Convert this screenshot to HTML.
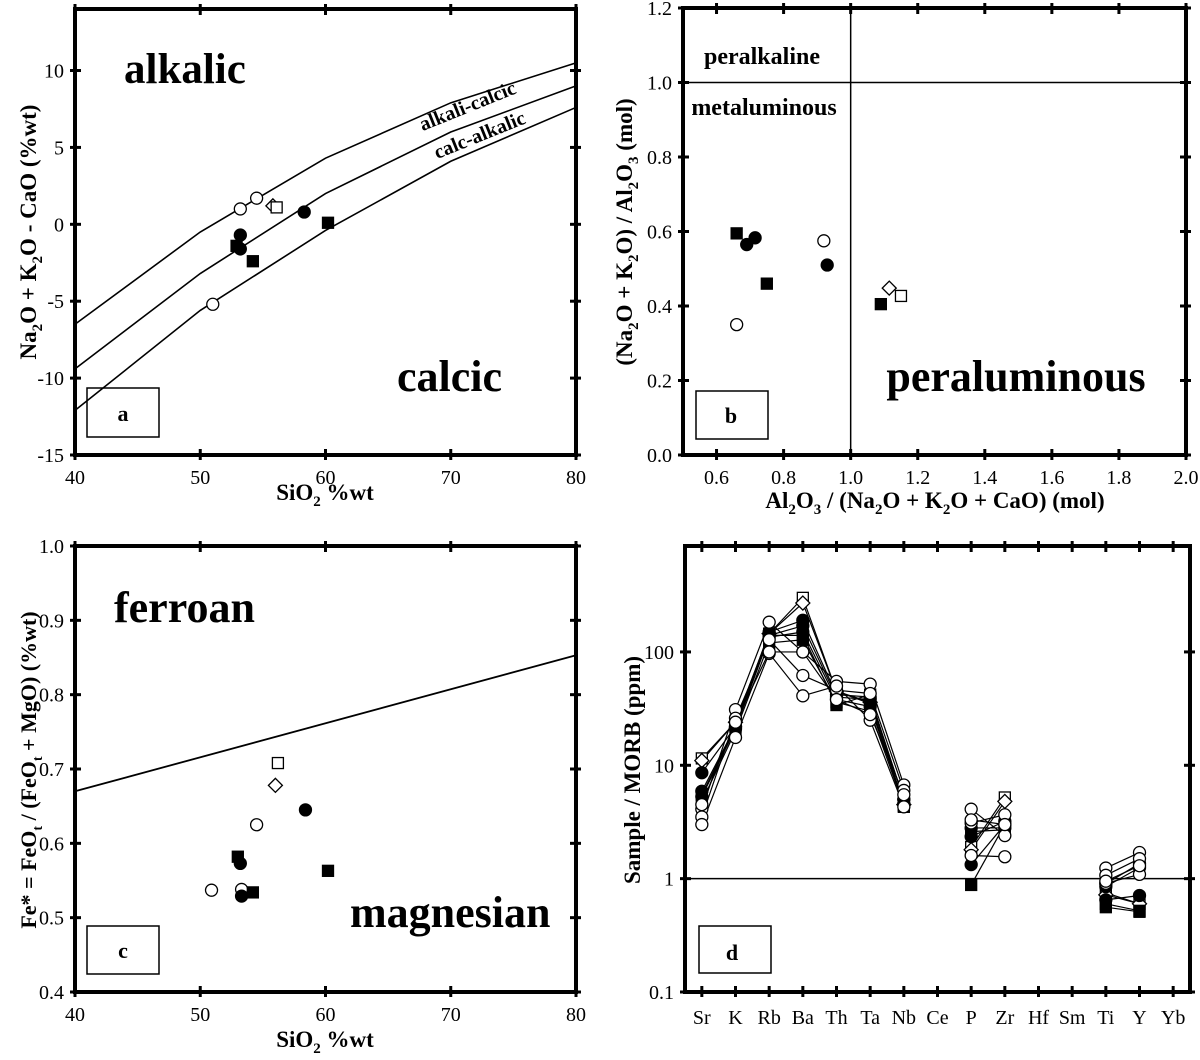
<!DOCTYPE html>
<html><head><meta charset="utf-8"><style>
html,body{margin:0;padding:0;background:#fff;}
svg{display:block;font-family:"Liberation Serif",serif;}
</style></head><body>
<svg id="fig" width="1200" height="1060" viewBox="0 0 1200 1060" xmlns="http://www.w3.org/2000/svg">
<g font-weight="bold" fill="#000">
<text x="124" y="83" font-size="43">alkalic</text>
<text x="397" y="391" font-size="44">calcic</text>
<text x="470" y="112" font-size="20" text-anchor="middle" transform="rotate(-22 470 112)">alkali-calcic</text>
<text x="482" y="141" font-size="20" text-anchor="middle" transform="rotate(-22 482 141)">calc-alkalic</text>
<rect x="87" y="388" width="72" height="49" fill="none" stroke="#000" stroke-width="1.5"/>
<text x="123" y="421" font-size="22" text-anchor="middle">a</text>
<text transform="translate(36 232) rotate(-90)" font-size="23" text-anchor="middle">Na<tspan font-size="15" dy="6">2</tspan><tspan dy="-6">O + K</tspan><tspan font-size="15" dy="6">2</tspan><tspan dy="-6">O - CaO (%wt)</tspan></text>
<text x="325" y="500" font-size="23" text-anchor="middle">SiO<tspan font-size="15" dy="6">2</tspan><tspan dy="-6"> %wt</tspan></text>
</g>
<g font-weight="bold" fill="#000">
<text x="762" y="64" font-size="24" text-anchor="middle">peralkaline</text>
<text x="764" y="115" font-size="24" text-anchor="middle">metaluminous</text>
<text x="1016" y="391" font-size="44" text-anchor="middle">peraluminous</text>
<rect x="696" y="391" width="72" height="48" fill="none" stroke="#000" stroke-width="1.5"/>
<text x="731" y="423" font-size="22" text-anchor="middle">b</text>
<text transform="translate(632 232) rotate(-90)" font-size="23" text-anchor="middle">(Na<tspan font-size="15" dy="6">2</tspan><tspan dy="-6">O + K</tspan><tspan font-size="15" dy="6">2</tspan><tspan dy="-6">O) / Al</tspan><tspan font-size="15" dy="6">2</tspan><tspan dy="-6">O</tspan><tspan font-size="15" dy="6">3</tspan><tspan dy="-6"> (mol)</tspan></text>
<text x="935" y="508" font-size="23" text-anchor="middle">Al<tspan font-size="15" dy="6">2</tspan><tspan dy="-6">O</tspan><tspan font-size="15" dy="6">3</tspan><tspan dy="-6"> / (Na</tspan><tspan font-size="15" dy="6">2</tspan><tspan dy="-6">O + K</tspan><tspan font-size="15" dy="6">2</tspan><tspan dy="-6">O + CaO) (mol)</tspan></text>
</g>
<g font-weight="bold" fill="#000">
<text x="114" y="622" font-size="44">ferroan</text>
<text x="350" y="927" font-size="44">magnesian</text>
<rect x="87" y="926" width="72" height="48" fill="none" stroke="#000" stroke-width="1.5"/>
<text x="123" y="958" font-size="22" text-anchor="middle">c</text>
<text transform="translate(36 770) rotate(-90)" font-size="22" text-anchor="middle">Fe* = FeO<tspan font-size="14" dy="6">t</tspan><tspan dy="-6"> / (FeO</tspan><tspan font-size="14" dy="6">t</tspan><tspan dy="-6"> + MgO) (%wt)</tspan></text>
<text x="325" y="1047" font-size="23" text-anchor="middle">SiO<tspan font-size="15" dy="6">2</tspan><tspan dy="-6"> %wt</tspan></text>
</g>
<g font-weight="bold" fill="#000">
<rect x="699" y="926" width="72" height="47" fill="none" stroke="#000" stroke-width="1.5"/>
<text x="732" y="960" font-size="22" text-anchor="middle">d</text>
<text transform="translate(640 770) rotate(-90)" font-size="23" text-anchor="middle">Sample / MORB (ppm)</text>
</g>
</svg>
<script>
// ---------- Panel a data ----------
const aLineX = [40, 50, 60, 70, 80];
const aUpperY = [-6.5, -0.5, 4.3, 7.9, 10.5];
const aMiddleY = [-9.4, -3.2, 2.0, 6.0, 9.0];
const aLowerY = [-12.1, -5.6, -0.4, 4.1, 7.6];
const aXTicks = [40, 50, 60, 70, 80];
const aYTicks = [-15, -10, -5, 0, 5, 10];
const ptType = ['oc','oc','oc','dm','os','fc','fc','fc','fs','fs','fs'];
const aSiO2 = [53.2, 54.5, 51.0, 55.8, 56.1, 53.2, 53.2, 58.3, 52.9, 54.2, 60.2];
const aAlk = [1.0, 1.7, -5.2, 1.2, 1.1, -0.7, -1.6, 0.8, -1.4, -2.4, 0.1];
// ---------- Panel b data ----------
const bXTicks = [0.6, 0.8, 1.0, 1.2, 1.4, 1.6, 1.8, 2.0];
const bYTicks = [0.0, 0.2, 0.4, 0.6, 0.8, 1.0, 1.2];
const bType = ['fs','fs','fs','fc','fc','fc','oc','oc','dm','os'];
const bASI = [0.66, 0.75, 1.09, 0.69, 0.715, 0.93, 0.66, 0.92, 1.115, 1.15];
const bANK = [0.595, 0.46, 0.405, 0.565, 0.583, 0.51, 0.35, 0.575, 0.448, 0.427];
// ---------- Panel c data ----------
const cXTicks = [40, 50, 60, 70, 80];
const cYTicks = [0.4, 0.5, 0.6, 0.7, 0.8, 0.9, 1.0];
const cLineX = [40, 80];
const cLineY = [0.67, 0.853];
const cType = ['os','dm','fc','oc','fs','fc','oc','oc','fc','fs','fs'];
const cSiO2 = [56.2, 56.0, 58.4, 54.5, 53.0, 53.2, 50.9, 53.3, 53.3, 54.2, 60.2];
const cFe = [0.708, 0.678, 0.645, 0.625, 0.582, 0.573, 0.537, 0.538, 0.529, 0.534, 0.563];
// ---------- Panel d data ----------
const dElements = ['Sr','K','Rb','Ba','Th','Ta','Nb','Ce','P','Zr','Hf','Sm','Ti','Y','Yb'];
const dYTicks = [0.1, 1, 10, 100];
const dType = ['os','dm','fc','fc','fc','fs','fs','oc','oc','oc','oc'];
const dS1 = [11.5,24,145,300,45,35,4.5,null,1.9,5.2,null,null,0.75,0.6,null];
const dS2 = [11,24,145,270,45,36,4.5,null,1.8,4.8,null,null,0.72,0.6,null];
const dS3 = [8.6,22,150,190,42,40,5,null,2.35,3.2,null,null,0.65,0.71,null];
const dS4 = [5.9,22,140,170,40,38,5,null,1.33,3.0,null,null,0.9,1.36,null];
const dS5 = [5.3,21,135,150,38,33,4.6,null,2.8,2.8,null,null,0.85,1.25,null];
const dS6 = [5.5,22,140,140,34,42,4.3,null,0.88,3.0,null,null,0.56,0.51,null];
const dS7 = [4.8,20,120,128,36,30,4.4,null,2.6,2.7,null,null,0.6,0.52,null];
const dS8 = [4.1,31,183,100,55,52,6.7,null,4.1,2.4,null,null,1.24,1.7,null];
const dS9 = [3.5,26,128,62,46,43,6.0,null,3.1,3.66,null,null,1.07,1.5,null];
const dS10 = [3.0,17.6,97,41,50,25,4.3,null,1.6,1.56,null,null,0.91,1.09,null];
const dS11 = [4.5,24,100,100,38,28,5.5,null,3.3,3.0,null,null,0.95,1.3,null];
const dSeries = [dS1,dS2,dS3,dS4,dS5,dS6,dS7,dS8,dS9,dS10,dS11];

const NS='http://www.w3.org/2000/svg';
const svg=document.getElementById('fig');
function mk(tag,attrs,parent){const e=document.createElementNS(NS,tag);for(const k in attrs)e.setAttribute(k,attrs[k]);(parent||svg).appendChild(e);return e;}
function lin(d0,d1,r0,r1){return v=>r0+(v-d0)*(r1-r0)/(d1-d0);}
function logS(d0,d1,r0,r1){return v=>r0+(Math.log10(v)-Math.log10(d0))*(r1-r0)/(Math.log10(d1)-Math.log10(d0));}

function marker(g,type,x,y){
  let e;
  if(type==='oc'||type==='fc'){e=mk('circle',{cx:x,cy:y,r:6,fill:type==='fc'?'#000':'#fff',stroke:'#000','stroke-width':1.3},g);}
  else if(type==='os'||type==='fs'){e=mk('rect',{x:x-5.5,y:y-5.5,width:11,height:11,fill:type==='fs'?'#000':'#fff',stroke:'#000','stroke-width':1.3},g);}
  else {e=mk('polygon',{points:`${x},${y-7} ${x+7},${y} ${x},${y+7} ${x-7},${y}`,fill:'#fff',stroke:'#000','stroke-width':1.3},g);}
  return e;
}

function frame(name,L,T,R,B,xt,yt,sx,sy,xfmt,yfmt){
  const g=mk('g',{});
  
  
  xt.forEach(v=>{const x=sx(v);
    mk('line',{x1:x,y1:B-6,x2:x,y2:B+5,stroke:'#000','stroke-width':3},g);
    mk('line',{x1:x,y1:T-5,x2:x,y2:T+6,stroke:'#000','stroke-width':3},g);
    if(xfmt){const t=mk('text',{x:x,y:B+29,'font-size':20,'text-anchor':'middle'},g);t.textContent=xfmt(v);
      
      }
  });
  yt.forEach(v=>{const y=sy(v);
    mk('line',{x1:L-5,y1:y,x2:L+6,y2:y,stroke:'#000','stroke-width':3},g);
    mk('line',{x1:R-6,y1:y,x2:R+5,y2:y,stroke:'#000','stroke-width':3},g);
    const t=mk('text',{x:L-11,y:y+7,'font-size':20,'text-anchor':'end'},g);t.textContent=yfmt(v);
    
    
  });
  const r=mk('rect',{x:L,y:T,width:R-L,height:B-T,fill:'none',stroke:'#000','stroke-width':4},g);
  
  
}
function polyline(g,xs,ys,sx,sy,w){return mk('polyline',{points:xs.map((v,i)=>sx(v)+','+sy(ys[i])).join(' '),fill:'none',stroke:'#000','stroke-width':w||1.5},g);}

(function(){
  const L=75,R=576,T=9,B=455;
  const sx=lin(40,80,L,R), sy=lin(-15,14,B,T);
  const g=mk('g',{});
  
  
  [aUpperY,aMiddleY,aLowerY].forEach((ys,i)=>{const p=polyline(g,aLineX,ys,sx,sy,1.6);
    
    });
  aSiO2.forEach((v,i)=>{const m=marker(g,ptType[i],sx(v),sy(aAlk[i]));
    
    });
  frame('panel-a',L,T,R,B,aXTicks,aYTicks,sx,sy,v=>String(v),v=>String(v));
})();
(function(){
  const L=683,R=1186,T=8,B=455;
  const sx=lin(0.5,2.0,L,R), sy=lin(0,1.2,B,T);
  const g=mk('g',{});
  
  
  const h=mk('line',{x1:L,x2:R,y1:sy(1.0),y2:sy(1.0),stroke:'#000','stroke-width':1.5},g);
  
  
  const v=mk('line',{x1:sx(1.0),x2:sx(1.0),y1:T,y2:B,stroke:'#000','stroke-width':1.5},g);
  
  
  bASI.forEach((x,i)=>{const m=marker(g,bType[i],sx(x),sy(bANK[i]));
    
    });
  frame('panel-b',L,T,R,B,bXTicks,bYTicks,sx,sy,v=>v.toFixed(1),v=>v.toFixed(1));
})();
(function(){
  const L=75,R=576,T=546,B=992;
  const sx=lin(40,80,L,R), sy=lin(0.4,1.0,B,T);
  const g=mk('g',{});
  
  
  const p=polyline(g,cLineX,cLineY,sx,sy,1.8);
  
  
  cSiO2.forEach((x,i)=>{const m=marker(g,cType[i],sx(x),sy(cFe[i]));
    
    });
  frame('panel-c',L,T,R,B,cXTicks,cYTicks,sx,sy,v=>String(v),v=>v.toFixed(1));
})();
(function(){
  const L=685,R=1190,T=546,B=992;
  const sx=lin(-0.5,dElements.length-0.5,L,R), sy=logS(0.1,860,B,T);
  const g=mk('g',{});
  
  
  const one=mk('line',{x1:L,x2:R,y1:sy(1),y2:sy(1),stroke:'#000','stroke-width':1.5},g);
  
  
  dSeries.forEach((s,si)=>{
    let seg=[];
    const segs=[];
    s.forEach((v,i)=>{if(v==null){if(seg.length)segs.push(seg);seg=[];}else seg.push(sx(i)+','+sy(v));});
    if(seg.length)segs.push(seg);
    segs.forEach(sg=>{const pl=mk('polyline',{points:sg.join(' '),fill:'none',stroke:'#000','stroke-width':1.2},g);
      
      });
  });
  dSeries.forEach((s,si)=>{
    s.forEach((v,i)=>{if(v==null)return;const m=marker(g,dType[si],sx(i),sy(v));
      
      });
  });
  frame('panel-d',L,T,R,B,dElements.map((e,i)=>i),dYTicks,sx,sy,null,v=>String(v));
  dElements.forEach((e,i)=>{const t=mk('text',{x:sx(i),y:B+32,'font-size':20,'text-anchor':'middle'});t.textContent=e;
    
    });
})();
</script>
</body></html>
